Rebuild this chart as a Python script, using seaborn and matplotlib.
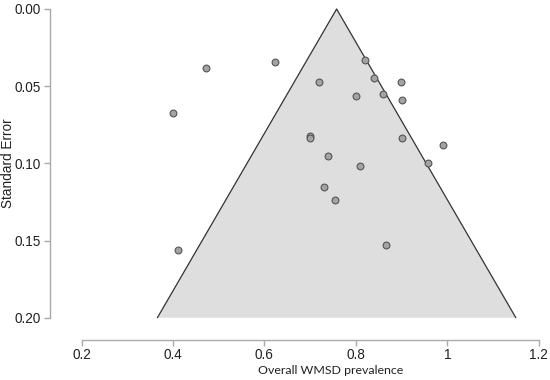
import matplotlib
matplotlib.use("Agg")
import matplotlib.pyplot as plt
import seaborn as sns
import numpy as np
import pandas as pd

# Study estimates (prevalence) and their standard errors
prevalence = [0.623, 0.820, 0.720, 0.840, 0.898, 0.800, 0.860, 0.900,
              0.700, 0.700, 0.900, 0.990, 0.739, 0.809, 0.958, 0.730,
              0.755, 0.865, 0.473, 0.400, 0.412]
std_error = [0.0345, 0.033, 0.047, 0.0445, 0.047, 0.0566, 0.055, 0.059,
             0.082, 0.0835, 0.0836, 0.088, 0.095, 0.102, 0.100, 0.115,
             0.124, 0.153, 0.038, 0.0674, 0.156]

pooled = 0.758
se_max = 0.2

x_ticks = [0.2, 0.4, 0.6, 0.8, 1.0, 1.2]
x_labels = ["0.2", "0.4", "0.6", "0.8", "1", "1.2"]
y_ticks = [0.00, 0.05, 0.10, 0.15, 0.20]
y_labels = ["0.00", "0.05", "0.10", "0.15", "0.20"]

df = pd.DataFrame({"prevalence": prevalence, "se": std_error})

sns.set_style("white")
plt.rcParams["font.family"] = ["Liberation Sans", "DejaVu Sans"]

fig = plt.figure(figsize=(5.5, 3.8), dpi=100)
ax = fig.add_axes([81.5 / 550, 1 - 317.7 / 380, (538.7 - 81.5) / 550, (317.7 - 9) / 380])

# Pseudo 95% confidence funnel
se_line = np.array([0.0, se_max])
left = pooled - 1.96 * se_line
right = pooled + 1.96 * se_line
ax.fill([pooled, left[1], right[1]], [0.0, se_max, se_max],
        facecolor="#dedede", edgecolor="none", zorder=1)
ax.plot([left[1], pooled, right[1]], [se_max, 0.0, se_max],
        color="#333333", linewidth=0.9, zorder=2, clip_on=False)

sns.scatterplot(data=df, x="prevalence", y="se", ax=ax, s=24,
                color="#a3a3a3", edgecolor="#555555", linewidth=0.8,
                zorder=3, clip_on=False)

ax.set_xlim(0.2, 1.2)
ax.set_ylim(0.2, 0.0)
ax.set_xticks(x_ticks)
ax.set_xticklabels(x_labels)
ax.set_yticks(y_ticks)
ax.set_yticklabels(y_labels)

for side in ["top", "right"]:
    ax.spines[side].set_visible(False)
ax.spines["left"].set_position(("outward", 23))
ax.spines["bottom"].set_position(("outward", 16))
for side in ["left", "bottom"]:
    ax.spines[side].set_color("#aaaaaa")
    ax.spines[side].set_linewidth(1.0)
ax.tick_params(axis="both", which="both", direction="out", length=4,
               width=1.0, color="#aaaaaa", labelsize=9.8, labelcolor="#222222",
               left=True, bottom=True, pad=2.5)
ax.tick_params(axis="x", pad=1.5)

ax.set_xlabel("Overall WMSD prevalence", fontsize=8.9, color="#222222",
              family=["Lato", "DejaVu Sans"])
ax.set_ylabel("Standard Error", fontsize=9.8, color="#222222")
ax.xaxis.set_label_coords((331 - 81.5) / 457.2, (317.7 - 364.5) / 308.7)
ax.yaxis.set_label_coords((15.5 - 81.5) / 457.2, 0.5)

fig.savefig("out.png", dpi=100)
